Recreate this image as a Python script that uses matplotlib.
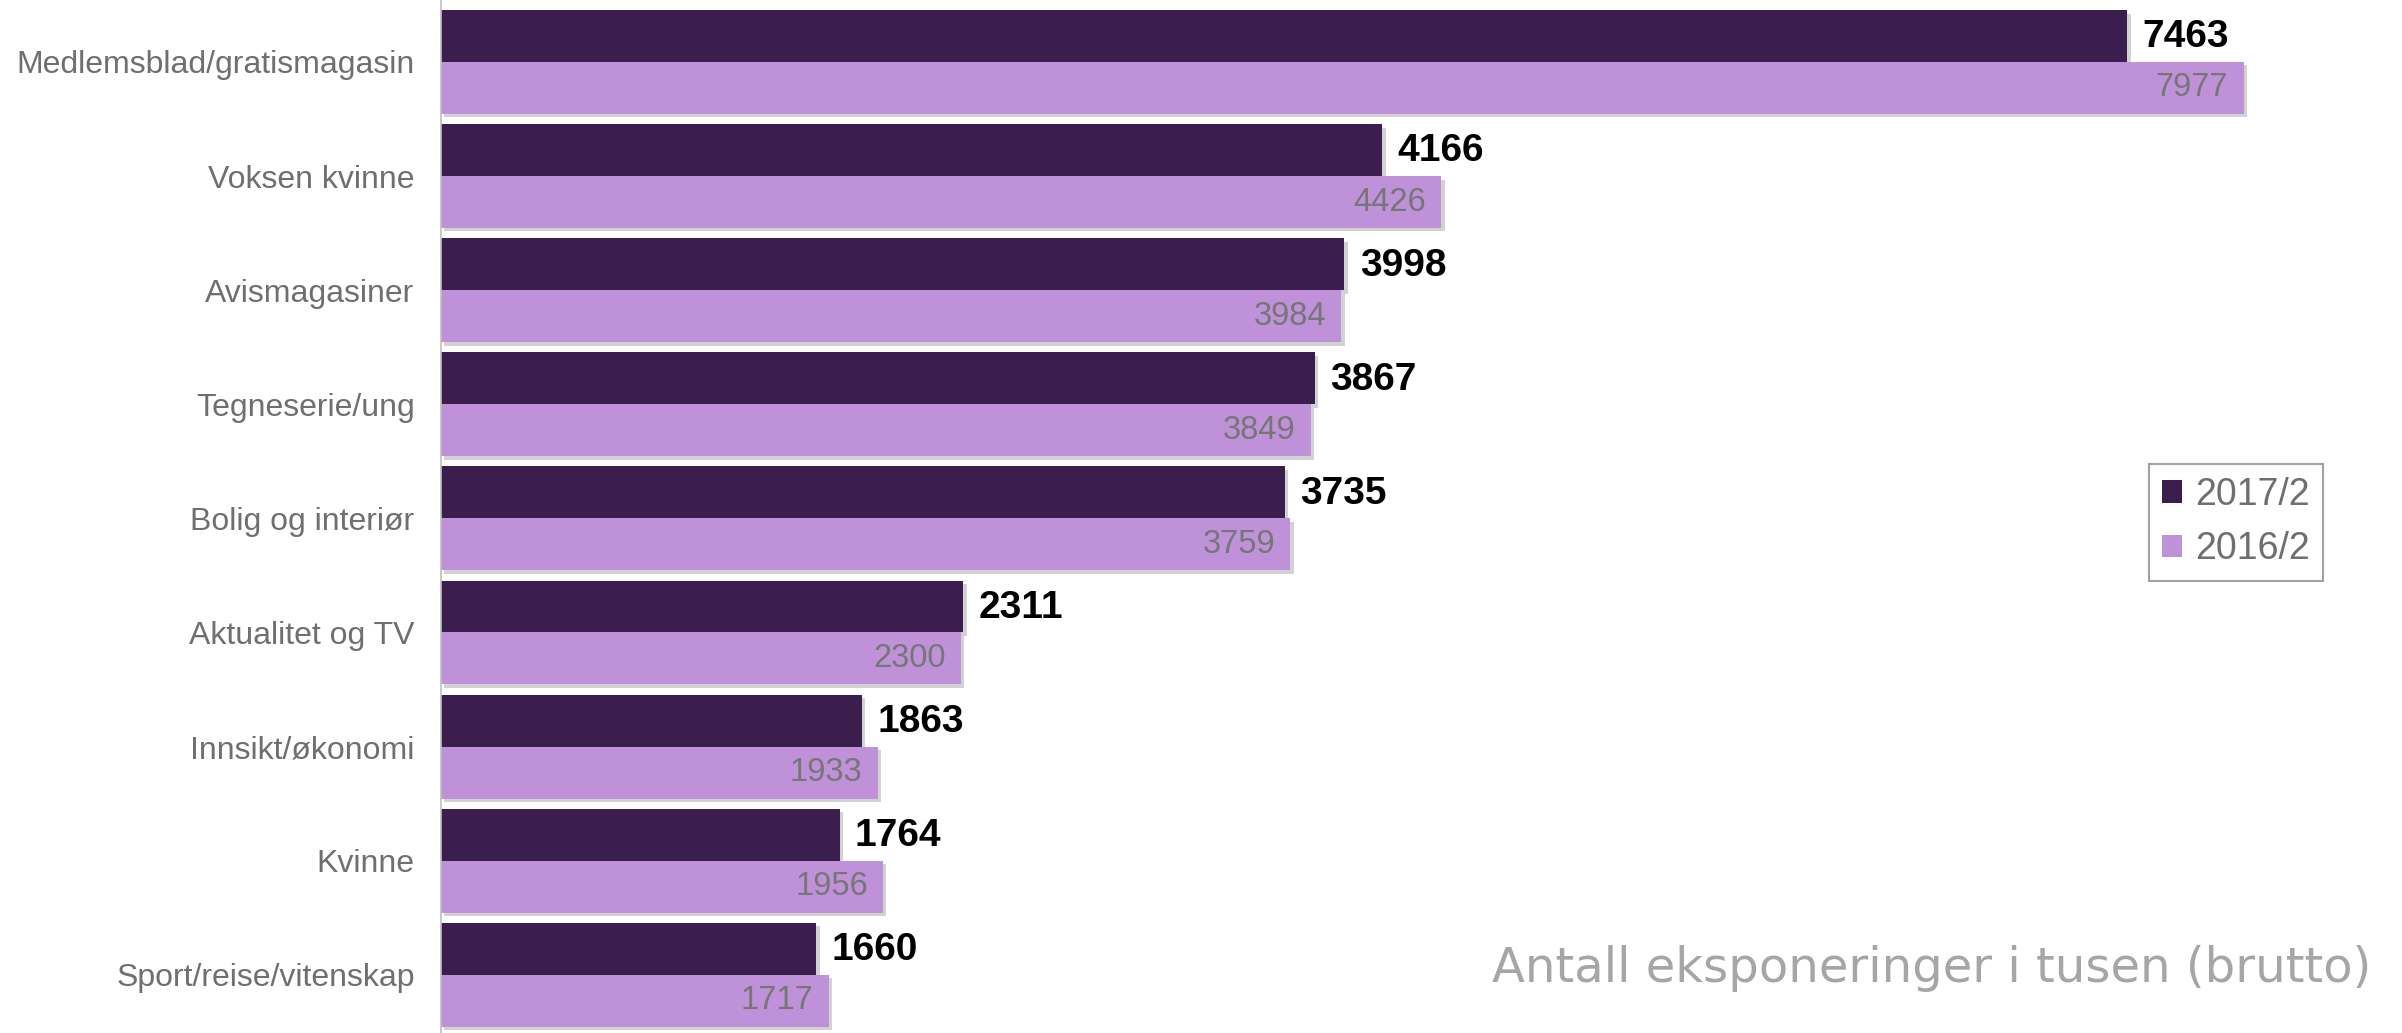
import matplotlib
matplotlib.use("Agg")
import matplotlib.pyplot as plt
import matplotlib.patheffects as pe
from matplotlib.patches import Patch
import numpy as np

# Data (thousands of exposures, gross)
categories = ['Medlemsblad/gratismagasin', 'Voksen kvinne', 'Avismagasiner',
              'Tegneserie/ung', 'Bolig og interiør', 'Aktualitet og TV',
              'Innsikt/økonomi', 'Kvinne', 'Sport/reise/vitenskap']
values_2017 = [7463, 4166, 3998, 3867, 3735, 2311, 1863, 1764, 1660]
values_2016 = [7977, 4426, 3984, 3849, 3759, 2300, 1933, 1956, 1717]
series_names = ['2017/2', '2016/2']

dark = '#3C1E4E'
light = '#BF91D8'
label_grey = '#6F6F6F'

plt.rcParams['font.family'] = ['Liberation Sans', 'DejaVu Sans']

fig = plt.figure(figsize=(24.02, 10.33), dpi=100)
ax = fig.add_axes([441 / 2402, 0, 1 - 441 / 2402, 1])

y = np.arange(len(categories))
h = 0.455
shadow = [pe.SimplePatchShadow(offset=(2.5, -2.5), shadow_rgbFace='#6A6A6A', alpha=0.3), pe.Normal()]

bars17 = ax.barh(y - h / 2, values_2017, height=h, color=dark, label=series_names[0])
bars16 = ax.barh(y + h / 2, values_2016, height=h, color=light, label=series_names[1])
for b in list(bars17) + list(bars16):
    b.set_path_effects(shadow)

for yi, v in zip(y, values_2017):
    ax.annotate(str(v), (v, yi - h / 2), xytext=(11, -1), textcoords='offset points',
                ha='left', va='center', fontsize=28, fontweight='bold', color='black')
for yi, v in zip(y, values_2016):
    ax.annotate(str(v), (v, yi + h / 2), xytext=(-11, 0), textcoords='offset points',
                ha='right', va='center', fontsize=23.5, color='#767676')

ax.set_xlim(0, 8678)
ax.set_ylim(8.51, -0.543)
ax.set_yticks(y)
ax.set_yticklabels(categories, fontsize=23, color=label_grey)
ax.tick_params(axis='y', length=0, pad=19)
ax.set_xticks([])
for s in ['top', 'right', 'bottom']:
    ax.spines[s].set_visible(False)
ax.spines['left'].set_color('#BFBFBF')
ax.spines['left'].set_linewidth(1.2)

handles = [Patch(facecolor=dark, label=series_names[0]),
           Patch(facecolor=light, label=series_names[1])]
leg = fig.legend(handles=handles, loc='center', bbox_to_anchor=(2236 / 2402, 1 - 522 / 1033),
                 fontsize=27, frameon=True, fancybox=False, edgecolor='#8C8C8C',
                 handlelength=0.55, handleheight=0.55, handletextpad=0.35,
                 labelspacing=0.5, borderpad=0.35, labelcolor=label_grey)
leg.get_frame().set_linewidth(1.5)

# note in the lower right, sized to the width it takes in the reference
note = fig.text(2371 / 2402, 1 - 968 / 1033, 'Antall eksponeringer i tusen (brutto)',
                ha='right', va='center', fontsize=32, color='#A6A6A6', family='DejaVu Sans')
fig.canvas.draw()
w = note.get_window_extent(fig.canvas.get_renderer()).width
note.set_fontsize(32 * 881 / w)

fig.savefig('out.png', dpi=100)
